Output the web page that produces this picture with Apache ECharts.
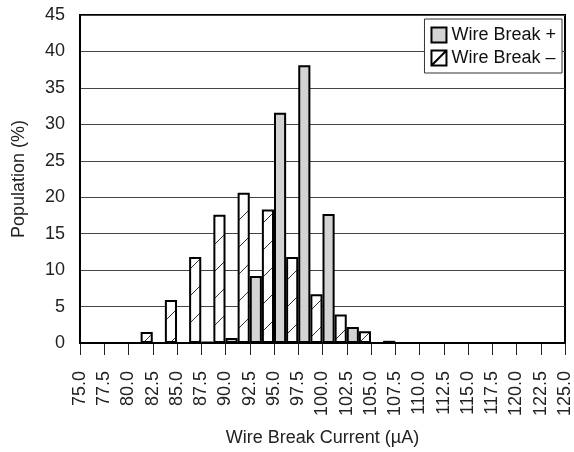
<!DOCTYPE html>
<html>
<head>
<meta charset="utf-8">
<script src="https://cdn.jsdelivr.net/npm/echarts@6/dist/echarts.min.js"></script>
<style>
html,body{margin:0;padding:0;background:#fff;}
#chart{width:574px;height:452px;}
</style>
</head>
<body>
<div id="chart"></div>
<script>
// Tick labels at bin boundaries (µA)
var tickLabels = ['75.0','77.5','80.0','82.5','85.0','87.5','90.0','92.5','95.0','97.5','100.0','102.5','105.0','107.5','110.0','112.5','115.0','117.5','120.0','122.5','125.0'];
// Bins between boundaries
var bins = ['75.0-77.5','77.5-80.0','80.0-82.5','82.5-85.0','85.0-87.5','87.5-90.0','90.0-92.5','92.5-95.0','95.0-97.5','97.5-100.0','100.0-102.5','102.5-105.0','105.0-107.5','107.5-110.0','110.0-112.5','112.5-115.0','115.0-117.5','117.5-120.0','120.0-122.5','122.5-125.0'];
// Population (%)
var wireBreakPlus  = [0,0,0,0,0,0.15,0.7,9.2,31.6,38.1,17.7,2.2,0,0,0,0,0,0,0,0];
var wireBreakMinus = [0,0,1.5,5.9,11.8,17.6,20.6,18.3,11.8,6.7,3.9,1.6,0.3,0,0,0,0,0,0,0];
var yTicks = {min:0, max:45, interval:5};

var FONT = '"Liberation Sans", Arial, Helvetica, sans-serif';

function makeHatch(){
  var s = 27;
  var c = document.createElement('canvas');
  c.width = s; c.height = s;
  var ctx = c.getContext('2d');
  ctx.fillStyle = '#fff';
  ctx.fillRect(0,0,s,s);
  ctx.strokeStyle = '#333';
  ctx.lineWidth = 1;
  ctx.beginPath();
  ctx.moveTo(-1, s+1); ctx.lineTo(s+1, -1);
  ctx.stroke();
  return c;
}
var hatch = makeHatch();

var chart = echarts.init(document.getElementById('chart'), null, {renderer:'canvas'});
chart.setOption({
  animation:false,
  backgroundColor:'#fff',
  textStyle:{fontFamily:FONT},
  grid:{left:80, right:7, top:15, bottom:107, show:true, borderColor:'#000', borderWidth:2, backgroundColor:'transparent', containLabel:false},
  legend:{
    orient:'vertical', right:12, top:19,
    backgroundColor:'#fff', borderColor:'#333', borderWidth:1,
    padding:[7,6,6,6], itemGap:5, itemWidth:15, itemHeight:15,
    textStyle:{fontSize:18, color:'#111', fontFamily:FONT},
    data:[
      {name:'Wire Break +', icon:'rect'},
      {name:'Wire Break \u2013', icon:'path://M0,0H15V15H0Z M0,15L15,0', itemStyle:{color:'#fff', borderColor:'#000', borderWidth:2}}
    ]
  },
  xAxis:[
    {
      type:'category', data:bins, show:false, boundaryGap:true
    },
    {
      type:'category', data:tickLabels, boundaryGap:false, position:'bottom',
      name:'Wire Break Current (\u00b5A)', nameLocation:'middle', nameGap:86,
      nameTextStyle:{fontSize:18, color:'#222', fontFamily:FONT},
      axisLine:{show:true, lineStyle:{color:'#000', width:2}},
      axisTick:{show:true, length:12, inside:false, alignWithLabel:true, lineStyle:{color:'#222', width:1}},
      axisLabel:{rotate:90, margin:28, fontSize:18, color:'#222', fontFamily:FONT, interval:0},
      splitLine:{show:false}
    }
  ],
  yAxis:{
    type:'value', min:yTicks.min, max:yTicks.max, interval:yTicks.interval,
    name:'Population (%)', nameLocation:'middle', nameGap:52,
    nameTextStyle:{fontSize:18, color:'#222', fontFamily:FONT},
    axisLine:{show:true, lineStyle:{color:'#000', width:2}},
    axisTick:{show:false},
    axisLabel:{fontSize:18, color:'#222', margin:15, fontFamily:FONT},
    splitLine:{show:true, lineStyle:{color:'#444', width:1}}
  },
  series:[
    {
      name:'Wire Break +', type:'bar', xAxisIndex:0, data:wireBreakPlus,
      barGap:'0%', barCategoryGap:'0%',
      itemStyle:{color:'#d3d3d3', borderColor:'#000', borderWidth:2}
    },
    {
      name:'Wire Break \u2013', type:'bar', xAxisIndex:0, data:wireBreakMinus,
      barGap:'0%', barCategoryGap:'0%',
      itemStyle:{color:{image:hatch, repeat:'repeat'}, borderColor:'#000', borderWidth:2}
    }
  ]
});
</script>
</body>
</html>
